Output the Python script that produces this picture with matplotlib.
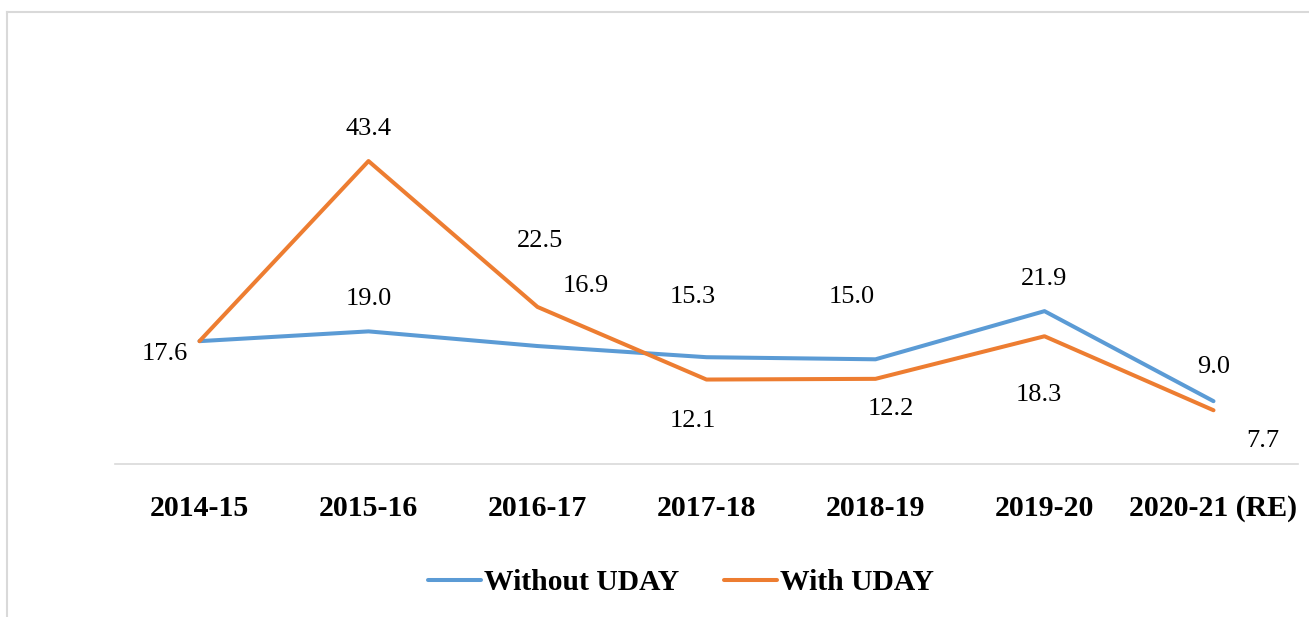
import matplotlib
matplotlib.use("Agg")
import matplotlib.pyplot as plt
from matplotlib.lines import Line2D

plt.rcParams['font.family'] = ['Liberation Serif', 'DejaVu Serif']

categories = ["2014-15", "2015-16", "2016-17", "2017-18", "2018-19", "2019-20", "2020-21 (RE)"]
without_uday = [17.6, 19.0, 16.9, 15.3, 15.0, 21.9, 9.0]
with_uday = [17.6, 43.4, 22.5, 12.1, 12.2, 18.3, 7.7]
series_names = ["Without UDAY", "With UDAY"]

# label offsets in pixels (dx, dy) for each point; None = no label
without_offsets = [(-35, -13), (0, 32), (48, 60), (-14, 60), (-24, 62), (0, 32), (0, 34)]
with_offsets = [None, (0, 32), (3, 66), (-14, -41), (15, -30), (-6, -59), (49, -31)]

W, H, DPI = 1309, 617, 100
fig = plt.figure(figsize=(W / DPI, H / DPI), dpi=DPI)

px_per_unit = 6.98
zero_y = 464
top_y = 40
ymax = (zero_y - top_y) / px_per_unit
ax = fig.add_axes([115 / W, (H - zero_y) / H, 1183 / W, (zero_y - top_y) / H])

blue = "#5B9BD5"
orange = "#ED7D31"
x = list(range(len(categories)))
ax.plot(x, without_uday, color=blue, lw=2.9, solid_capstyle='round', solid_joinstyle='round', label=series_names[0])
ax.plot(x, with_uday, color=orange, lw=2.9, solid_capstyle='round', solid_joinstyle='round', label=series_names[1])

for vals, offs in ((without_uday, without_offsets), (with_uday, with_offsets)):
    for i, (v, o) in enumerate(zip(vals, offs)):
        if o is None:
            continue
        ax.annotate(f"{v:.1f}", (i, v), xytext=o, textcoords='offset pixels',
                    ha='center', va='center', fontsize=19, color='#000000')

ax.set_xlim(-0.5, len(categories) - 0.5)
ax.set_ylim(0, ymax)
ax.set_yticks([])
ax.set_xticks(x)
ax.set_xticklabels(categories, fontsize=21.5, fontweight='bold')
ax.tick_params(axis='x', length=0, pad=22)
for s in ['top', 'right', 'left']:
    ax.spines[s].set_visible(False)
ax.spines['bottom'].set_color('#D9D9D9')
ax.spines['bottom'].set_linewidth(1.2)
ax.patch.set_alpha(0)

leg = fig.legend(loc='center', bbox_to_anchor=(681 / W, (H - 583) / H), ncol=2, frameon=False,
                 prop={'weight': 'bold', 'size': 21.3}, handlelength=1.8, handletextpad=0.1,
                 columnspacing=1.5)

# chart border (cropped)
fig.add_artist(Line2D([7 / W, 7 / W], [0, (H - 12) / H], transform=fig.transFigure, color='#D9D9D9', lw=1.5))
fig.add_artist(Line2D([7 / W, 1], [(H - 12) / H, (H - 12) / H], transform=fig.transFigure, color='#D9D9D9', lw=1.5))

fig.savefig("out.png", dpi=DPI)
